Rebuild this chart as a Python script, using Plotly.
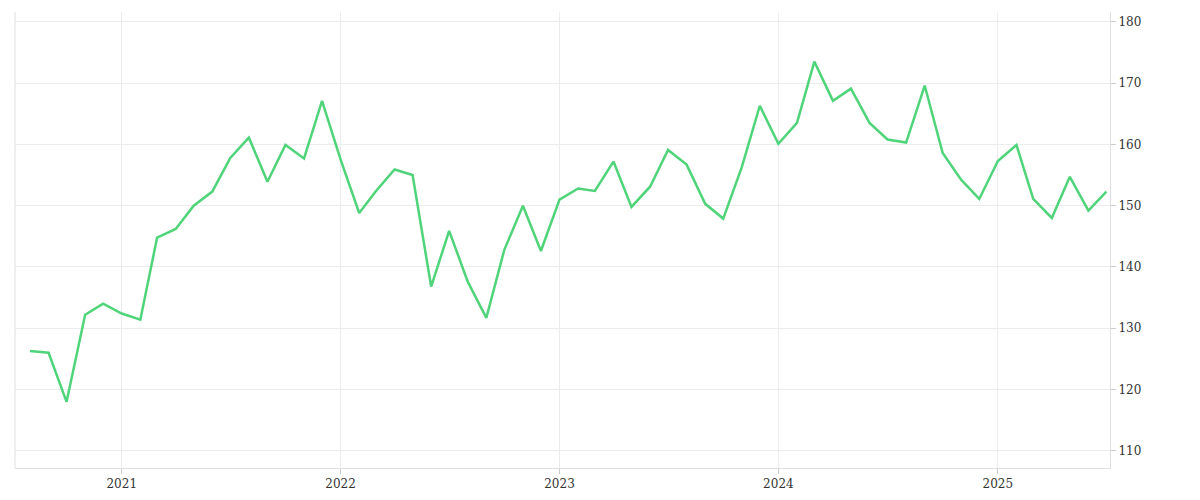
import plotly.graph_objects as go
import pandas as pd

dates = pd.date_range("2020-08-01", periods=60, freq="MS")
values = [126.3, 126.0, 118.0, 132.2, 134.0, 132.4, 131.4, 144.8, 146.2, 150.0,
          152.3, 157.8, 161.1, 153.9, 159.9, 157.7, 167.1, 157.5, 148.8, 152.4,
          155.9, 155.0, 136.8, 145.9, 137.6, 131.7, 142.8, 150.0, 142.6, 151.0,
          152.8, 152.4, 157.2, 149.8, 153.1, 159.1, 156.7, 150.3, 147.9, 156.3,
          166.3, 160.1, 163.5, 173.5, 167.1, 169.1, 163.5, 160.8, 160.3, 169.6,
          158.6, 154.2, 151.1, 157.3, 159.9, 151.1, 148.0, 154.7, 149.2, 152.3]
y_ticks = [110, 120, 130, 140, 150, 160, 170, 180]

fig = go.Figure(go.Scatter(x=dates, y=values, mode="lines",
                           line=dict(color="#4fd47a", width=2.5), hoverinfo="skip"))
fig.update_layout(
    width=1200, height=500, margin=dict(l=7, r=98, t=4, b=40),
    paper_bgcolor="white", plot_bgcolor="white", showlegend=False,
    font=dict(family="DejaVu Serif", size=12, color="#333"),
)
fig.update_xaxes(range=["2020-07-07", "2025-07-07"], showgrid=True, gridcolor="#ececec",
                 dtick="M12", tickformat="%Y", ticks="outside", ticklen=5, tickcolor="#ccc",
                 showline=True, linecolor="#e0e0e0", zeroline=False, mirror=False)
fig.update_yaxes(range=[107.2, 181.6], side="right", tickvals=y_ticks, showgrid=True,
                 gridcolor="#ececec", ticks="outside", ticklen=5, tickcolor="#ccc",
                 showline=True, linecolor="#e0e0e0", zeroline=False)
fig.add_shape(type="line", xref="paper", yref="paper", x0=0, x1=0, y0=0, y1=1,
              line=dict(color="#e0e0e0", width=1))
fig.write_html("out.html")
